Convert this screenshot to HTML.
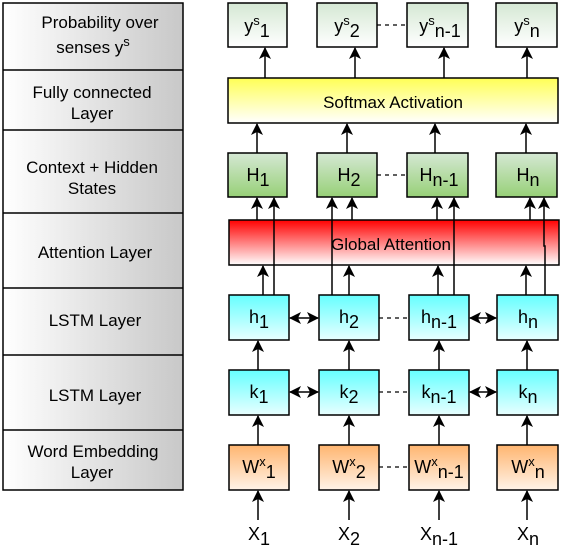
<!DOCTYPE html>
<html><head><meta charset="utf-8"><style>
html,body{margin:0;padding:0;background:#fff}
svg{display:block;font-family:"Liberation Sans",sans-serif}
.lbl text{font-size:17px}
.bx text{font-size:18px}
.sp{font-size:13px}
</style></head><body>
<svg width="562" height="553" viewBox="0 0 562 553">
<defs>
<linearGradient id="gl" x1="0" x2="1" y1="0" y2="0"><stop offset="0" stop-color="#ffffff"/><stop offset="1" stop-color="#c8c8c8"/></linearGradient>
<linearGradient id="gy" x1="0" x2="0" y1="0" y2="1"><stop offset="0" stop-color="#d5e8d4"/><stop offset="1" stop-color="#ffffff"/></linearGradient>
<linearGradient id="gs" x1="0" x2="0" y1="0" y2="1"><stop offset="0" stop-color="#ffff55"/><stop offset="1" stop-color="#ffffff"/></linearGradient>
<linearGradient id="gh" x1="0" x2="0" y1="0" y2="1"><stop offset="0" stop-color="#d5e8d4"/><stop offset="1" stop-color="#97d077"/></linearGradient>
<linearGradient id="ga" x1="0" x2="0" y1="0" y2="1"><stop offset="0" stop-color="#ff0000"/><stop offset="1" stop-color="#ffffff"/></linearGradient>
<linearGradient id="gc" x1="0" x2="0" y1="0" y2="1"><stop offset="0" stop-color="#66ffff"/><stop offset="1" stop-color="#e8ffff"/></linearGradient>
<linearGradient id="go" x1="0" x2="0" y1="0" y2="1"><stop offset="0" stop-color="#ffb570"/><stop offset="1" stop-color="#fff3e8"/></linearGradient>
<marker id="ar" markerWidth="12" markerHeight="12" refX="11" refY="6" orient="auto-start-reverse" markerUnits="userSpaceOnUse" viewBox="0 0 12 12"><path d="M0,0 L12,6 L0,12 L3,6 Z" fill="#000"/></marker>
</defs>

<g class="lbl" text-anchor="middle">
<g stroke="#000" stroke-width="1.5">
<rect x="3" y="3" width="180" height="487" fill="url(#gl)"/>
<line x1="3" y1="70" x2="183" y2="70"/><line x1="3" y1="130" x2="183" y2="130"/>
<line x1="3" y1="213" x2="183" y2="213"/><line x1="3" y1="288" x2="183" y2="288"/>
<line x1="3" y1="355" x2="183" y2="355"/><line x1="3" y1="430" x2="183" y2="430"/>
</g>
<g fill="#000">
<text x="100" y="28">Probability over</text>
<text x="93" y="53">senses y<tspan class="sp" dy="-7">s</tspan></text>
<text x="92" y="98">Fully connected</text>
<text x="92" y="119">Layer</text>
<text x="92" y="173">Context + Hidden</text>
<text x="92" y="194">States</text>
<text x="95" y="258">Attention Layer</text>
<text x="95" y="326">LSTM Layer</text>
<text x="95" y="401">LSTM Layer</text>
<text x="93" y="457">Word Embedding</text>
<text x="92" y="478">Layer</text>
</g></g>

<g stroke="#000" stroke-width="1.5" fill="none">
<g stroke-dasharray="4,4" stroke-width="1.2">
<line x1="377" y1="25" x2="407" y2="25"/><line x1="377" y1="175" x2="407" y2="175"/>
<line x1="379" y1="318" x2="409" y2="318"/><line x1="379" y1="392" x2="409" y2="392"/>
<line x1="379" y1="467" x2="409" y2="467"/>
</g>
<line x1="258" y1="520" x2="258" y2="491" marker-end="url(#ar)"/>
<line x1="349" y1="520" x2="349" y2="491" marker-end="url(#ar)"/>
<line x1="439" y1="520" x2="439" y2="491" marker-end="url(#ar)"/>
<line x1="527" y1="520" x2="527" y2="491" marker-end="url(#ar)"/>
<line x1="258" y1="445" x2="258" y2="416" marker-end="url(#ar)"/>
<line x1="349" y1="445" x2="349" y2="416" marker-end="url(#ar)"/>
<line x1="439" y1="445" x2="439" y2="416" marker-end="url(#ar)"/>
<line x1="527" y1="445" x2="527" y2="416" marker-end="url(#ar)"/>
<line x1="258" y1="370" x2="258" y2="341" marker-end="url(#ar)"/>
<line x1="349" y1="370" x2="349" y2="341" marker-end="url(#ar)"/>
<line x1="439" y1="370" x2="439" y2="341" marker-end="url(#ar)"/>
<line x1="527" y1="370" x2="527" y2="341" marker-end="url(#ar)"/>
<line x1="290" y1="318" x2="318" y2="318" marker-start="url(#ar)" marker-end="url(#ar)"/>
<line x1="470" y1="318" x2="496" y2="318" marker-start="url(#ar)" marker-end="url(#ar)"/>
<line x1="290" y1="392" x2="318" y2="392" marker-start="url(#ar)" marker-end="url(#ar)"/>
<line x1="470" y1="392" x2="496" y2="392" marker-start="url(#ar)" marker-end="url(#ar)"/>
<line x1="263" y1="295" x2="263" y2="266" marker-end="url(#ar)"/>
<line x1="349" y1="295" x2="349" y2="266" marker-end="url(#ar)"/>
<line x1="438" y1="295" x2="438" y2="266" marker-end="url(#ar)"/>
<line x1="526" y1="295" x2="526" y2="266" marker-end="url(#ar)"/>
<line x1="257" y1="220" x2="257" y2="198" marker-end="url(#ar)"/>
<line x1="352" y1="220" x2="352" y2="198" marker-end="url(#ar)"/>
<line x1="437" y1="220" x2="437" y2="198" marker-end="url(#ar)"/>
<line x1="530" y1="220" x2="530" y2="198" marker-end="url(#ar)"/>
<line x1="257" y1="153" x2="257" y2="124" marker-end="url(#ar)"/>
<line x1="347" y1="153" x2="347" y2="124" marker-end="url(#ar)"/>
<line x1="435" y1="153" x2="435" y2="124" marker-end="url(#ar)"/>
<line x1="526" y1="153" x2="526" y2="124" marker-end="url(#ar)"/>
<line x1="265" y1="78" x2="265" y2="48" marker-end="url(#ar)"/>
<line x1="355" y1="78" x2="355" y2="48" marker-end="url(#ar)"/>
<line x1="444" y1="78" x2="444" y2="48" marker-end="url(#ar)"/>
<line x1="527" y1="78" x2="527" y2="48" marker-end="url(#ar)"/>
</g>

<g stroke="#000" stroke-width="1.5">
<rect x="228" y="3" width="59" height="44" fill="url(#gy)"/>
<rect x="317" y="3" width="60" height="44" fill="url(#gy)"/>
<rect x="407" y="3" width="61" height="44" fill="url(#gy)"/>
<rect x="496" y="3" width="61" height="44" fill="url(#gy)"/>
<rect x="228" y="78" width="330" height="45" fill="url(#gs)"/>
<rect x="228" y="153" width="59" height="44" fill="url(#gh)"/>
<rect x="317" y="153" width="60" height="44" fill="url(#gh)"/>
<rect x="407" y="153" width="61" height="44" fill="url(#gh)"/>
<rect x="496" y="153" width="61" height="44" fill="url(#gh)"/>
<rect x="229" y="220" width="330" height="45" fill="url(#ga)"/>
<rect x="229" y="295" width="60" height="45" fill="url(#gc)"/>
<rect x="319" y="295" width="60" height="45" fill="url(#gc)"/>
<rect x="409" y="295" width="60" height="45" fill="url(#gc)"/>
<rect x="497" y="295" width="61" height="45" fill="url(#gc)"/>
<rect x="229" y="370" width="60" height="45" fill="url(#gc)"/>
<rect x="319" y="370" width="60" height="45" fill="url(#gc)"/>
<rect x="409" y="370" width="60" height="45" fill="url(#gc)"/>
<rect x="497" y="370" width="61" height="45" fill="url(#gc)"/>
<rect x="229" y="445" width="60" height="45" fill="url(#go)"/>
<rect x="319" y="445" width="60" height="45" fill="url(#go)"/>
<rect x="409" y="445" width="60" height="45" fill="url(#go)"/>
<rect x="497" y="445" width="61" height="45" fill="url(#go)"/>
</g>

<g stroke="#000" stroke-width="1.5" fill="none">
<line x1="274" y1="295" x2="274" y2="198" marker-end="url(#ar)"/>
<line x1="332" y1="295" x2="332" y2="198" marker-end="url(#ar)"/>
<line x1="454" y1="295" x2="454" y2="198" marker-end="url(#ar)"/>
<polyline points="545,295 545,246 544,246 544,198" marker-end="url(#ar)"/>
</g>

<g class="bx" fill="#000" text-anchor="middle">
<text x="257" y="32">y<tspan class="sp" dy="-7">s</tspan><tspan dy="12">1</tspan></text>
<text x="347" y="32">y<tspan class="sp" dy="-7">s</tspan><tspan dy="12">2</tspan></text>
<text x="440" y="32">y<tspan class="sp" dy="-7">s</tspan><tspan dy="12">n-1</tspan></text>
<text x="527" y="32">y<tspan class="sp" dy="-7">s</tspan><tspan dy="12">n</tspan></text>
<text x="393" y="108" style="font-size:17px">Softmax Activation</text>
<text x="258" y="181">H<tspan dy="5">1</tspan></text>
<text x="349" y="181">H<tspan dy="5">2</tspan></text>
<text x="439" y="181">H<tspan dy="5">n-1</tspan></text>
<text x="528" y="181">H<tspan dy="5">n</tspan></text>
<text x="391" y="250" style="font-size:17px">Global Attention</text>
<text x="259" y="323">h<tspan dy="5">1</tspan></text>
<text x="349" y="323">h<tspan dy="5">2</tspan></text>
<text x="439" y="323">h<tspan dy="5">n-1</tspan></text>
<text x="528" y="323">h<tspan dy="5">n</tspan></text>
<text x="259" y="398">k<tspan dy="5">1</tspan></text>
<text x="349" y="398">k<tspan dy="5">2</tspan></text>
<text x="439" y="398">k<tspan dy="5">n-1</tspan></text>
<text x="528" y="398">k<tspan dy="5">n</tspan></text>
<text x="259" y="473">W<tspan class="sp" dy="-7">x</tspan><tspan dy="12">1</tspan></text>
<text x="349" y="473">W<tspan class="sp" dy="-7">x</tspan><tspan dy="12">2</tspan></text>
<text x="439" y="473">W<tspan class="sp" dy="-7">x</tspan><tspan dy="12">n-1</tspan></text>
<text x="528" y="473">W<tspan class="sp" dy="-7">x</tspan><tspan dy="12">n</tspan></text>
<text x="259" y="540">X<tspan dy="5">1</tspan></text>
<text x="349" y="540">X<tspan dy="5">2</tspan></text>
<text x="439" y="540">X<tspan dy="5">n-1</tspan></text>
<text x="528" y="540">X<tspan dy="5">n</tspan></text>
</g>
</svg>
</body></html>
